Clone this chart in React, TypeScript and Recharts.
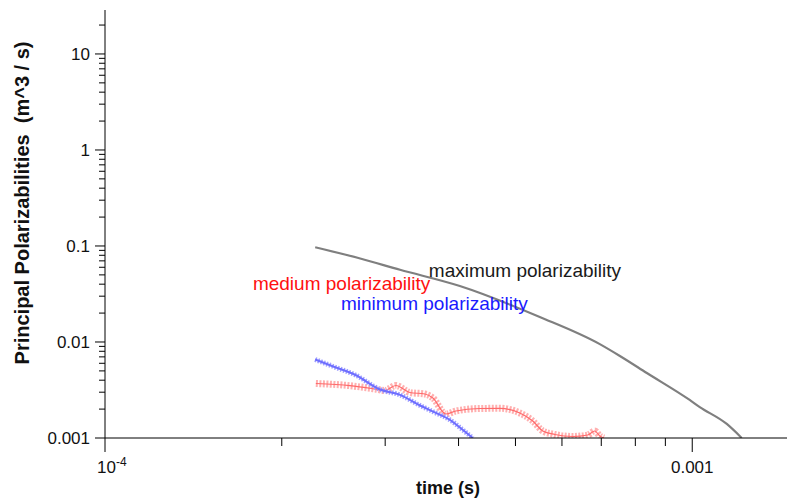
import React from 'react';
import { LineChart, Line, XAxis, YAxis, ReferenceDot } from 'recharts';

// ---- data ----
const maxTime = [2.28e-4, 2.72e-4, 3.18e-4, 4.02e-4, 5.5e-4, 6.96e-4, 7.53e-4, 8.37e-4, 9.9e-4, 1.03e-3, 1.145e-3, 1.214e-3];
const maxValue = [0.097, 0.0741, 0.0565, 0.0383, 0.01822, 0.0095, 0.00715, 0.00475, 0.00249, 0.0021, 0.0014, 0.001];

const medTime = [2.286e-4, 2.612e-4, 2.881e-4, 2.996e-4, 3.128e-4, 3.304e-4, 3.505e-4, 3.617e-4, 3.806e-4, 3.958e-4, 4.347e-4, 4.702e-4, 5.086e-4, 5.352e-4, 5.566e-4, 5.834e-4, 6.26e-4, 6.64e-4, 6.823e-4, 6.96e-4, 7.07e-4];
const medValue = [0.003696, 0.003506, 0.003239, 0.003125, 0.003523, 0.002978, 0.002873, 0.00261, 0.001778, 0.001911, 0.002029, 0.002039, 0.001821, 0.001503, 0.001183, 0.001088, 0.001037, 0.001075, 0.001183, 0.001049, 0.001];

const minTime = [2.28e-4, 2.46e-4, 2.67e-4, 2.94e-4, 3.18e-4, 3.44e-4, 3.62e-4, 3.87e-4, 4.07e-4, 4.23e-4];
const minValue = [0.00657, 0.00549, 0.00453, 0.0032, 0.00281, 0.00218, 0.00188, 0.00154, 0.00121, 0.001];

const xMajorTicks = [1e-4, 1e-3];
const xMinorTicks = [2e-4, 3e-4, 4e-4, 5e-4, 6e-4, 7e-4, 8e-4, 9e-4];
const yMajorTicks = [0.001, 0.01, 0.1, 1, 10];
const yMajorLabels = ['0.001', '0.01', '0.1', '1', '10'];
const yMinorTicks = [
  0.002, 0.003, 0.004, 0.005, 0.006, 0.007, 0.008, 0.009,
  0.02, 0.03, 0.04, 0.05, 0.06, 0.07, 0.08, 0.09,
  0.2, 0.3, 0.4, 0.5, 0.6, 0.7, 0.8, 0.9,
  2, 3, 4, 5, 6, 7, 8, 9,
  20,
];

const annotations = [
  { t: 3.56e-4, v: 0.0475, text: 'maximum polarizability', color: '#1a1a1a' },
  { t: 1.786e-4, v: 0.0348, text: 'medium polarizability', color: '#ff1010' },
  { t: 2.522e-4, v: 0.0215, text: 'minimum polarizability', color: '#1a1aff' },
];

const toRows = (ts: number[], vs: number[]) => ts.map((t, i) => ({ t, v: vs[i] }));
const maxData = toRows(maxTime, maxValue);
const medData = toRows(medTime, medValue);
const minData = toRows(minTime, minValue);

const FONT = '"Liberation Sans", Arial, sans-serif';

const YTick = (props: any) => {
  const { x, y, payload } = props;
  const idx = yMajorTicks.indexOf(payload.value);
  const major = idx >= 0;
  return (
    <g>
      <line x1={x} y1={y} x2={x - (major ? 10 : 6)} y2={y} stroke="#000" strokeWidth={1} />
      {major && (
        <text x={x - 15} y={y} dy="0.36em" textAnchor="end" fontSize={17} fontFamily={FONT} fill="#111">
          {yMajorLabels[idx]}
        </text>
      )}
    </g>
  );
};

const XTick = (props: any) => {
  const { x, y, payload } = props;
  const v = payload.value;
  const major = xMajorTicks.indexOf(v) >= 0;
  return (
    <g>
      <line x1={x} y1={y} x2={x} y2={y + (major ? 14 : 8)} stroke="#000" strokeWidth={1} />
      {v === 1e-4 && (
        <text x={x - 8} y={y + 35} textAnchor="start" fontSize={17} fontFamily={FONT} fill="#111">
          10
          <tspan dy={-7} fontSize={12}>-4</tspan>
        </text>
      )}
      {v === 1e-3 && (
        <text x={x} y={y + 35} textAnchor="middle" fontSize={17} fontFamily={FONT} fill="#111">
          0.001
        </text>
      )}
    </g>
  );
};

const YTitle = (props: any) => {
  const vb = props.viewBox || { x: 0, y: 10 };
  const cx = vb.x + 22;
  const cy = vb.y + 193;
  return (
    <text x={cx} y={cy} transform={`rotate(-90 ${cx} ${cy})`} textAnchor="middle" dy="0.36em"
      fontSize={20} fontWeight="bold" fontFamily={FONT} fill="#111" style={{ whiteSpace: 'pre' }}>
      {'Principal Polarizabilities  (m^3 / s)'}
    </text>
  );
};

const XTitle = (props: any) => {
  const vb = props.viewBox || { x: 105, y: 438, width: 682 };
  return (
    <text x={vb.x + vb.width / 2 + 2} y={vb.y + 56} textAnchor="middle"
      fontSize={18} fontWeight="bold" fontFamily={FONT} fill="#111">
      time (s)
    </text>
  );
};

export default function App() {
  return (
    <div style={{ position: 'absolute', left: 0, top: 0, background: '#fff' }}>
      <LineChart width={787} height={500} margin={{ top: 10, right: 0, bottom: 0, left: 0 }}>
        <XAxis
          type="number"
          dataKey="t"
          scale="log"
          domain={[1e-4, 1.45e-3]}
          allowDataOverflow
          ticks={[...xMajorTicks, ...xMinorTicks]}
          interval={0}
          tick={<XTick />}
          tickLine={false}
          tickSize={0}
          tickMargin={0}
          height={62}
          axisLine={{ stroke: '#000', strokeWidth: 1 }}
          label={{ content: <XTitle /> } as any}
        />
        <YAxis
          type="number"
          dataKey="v"
          scale="log"
          domain={[0.001, 28.7]}
          allowDataOverflow
          ticks={[...yMajorTicks, ...yMinorTicks]}
          interval={0}
          tick={<YTick />}
          tickLine={false}
          tickSize={0}
          tickMargin={0}
          width={105}
          axisLine={{ stroke: '#000', strokeWidth: 1 }}
          label={{ content: <YTitle /> } as any}
        />
        <Line data={maxData} dataKey="v" type="monotone" stroke="#7f7f7f" strokeWidth={2.2} dot={false} isAnimationActive={false} />
        <Line data={medData} dataKey="v" type="monotone" stroke="#ffb0b0" strokeWidth={7} strokeDasharray="2 1.5" dot={false} isAnimationActive={false} />
        <Line data={medData} dataKey="v" type="monotone" stroke="#ff6a6a" strokeWidth={1.2} dot={false} isAnimationActive={false} />
        <Line data={minData} dataKey="v" type="monotone" stroke="#a0a0ff" strokeWidth={5} strokeDasharray="1.5 1.5" dot={false} isAnimationActive={false} />
        <Line data={minData} dataKey="v" type="monotone" stroke="#6e6eff" strokeWidth={2} dot={false} isAnimationActive={false} />
        {annotations.map((a) => (
          <ReferenceDot
            key={a.text}
            x={a.t}
            y={a.v}
            r={0}
            ifOverflow="visible"
            shape={(p: any) => (
              <text x={p.cx} y={p.cy} fontSize={19} fontFamily={FONT} fill={a.color}>
                {a.text}
              </text>
            )}
          />
        ))}
      </LineChart>
    </div>
  );
}
